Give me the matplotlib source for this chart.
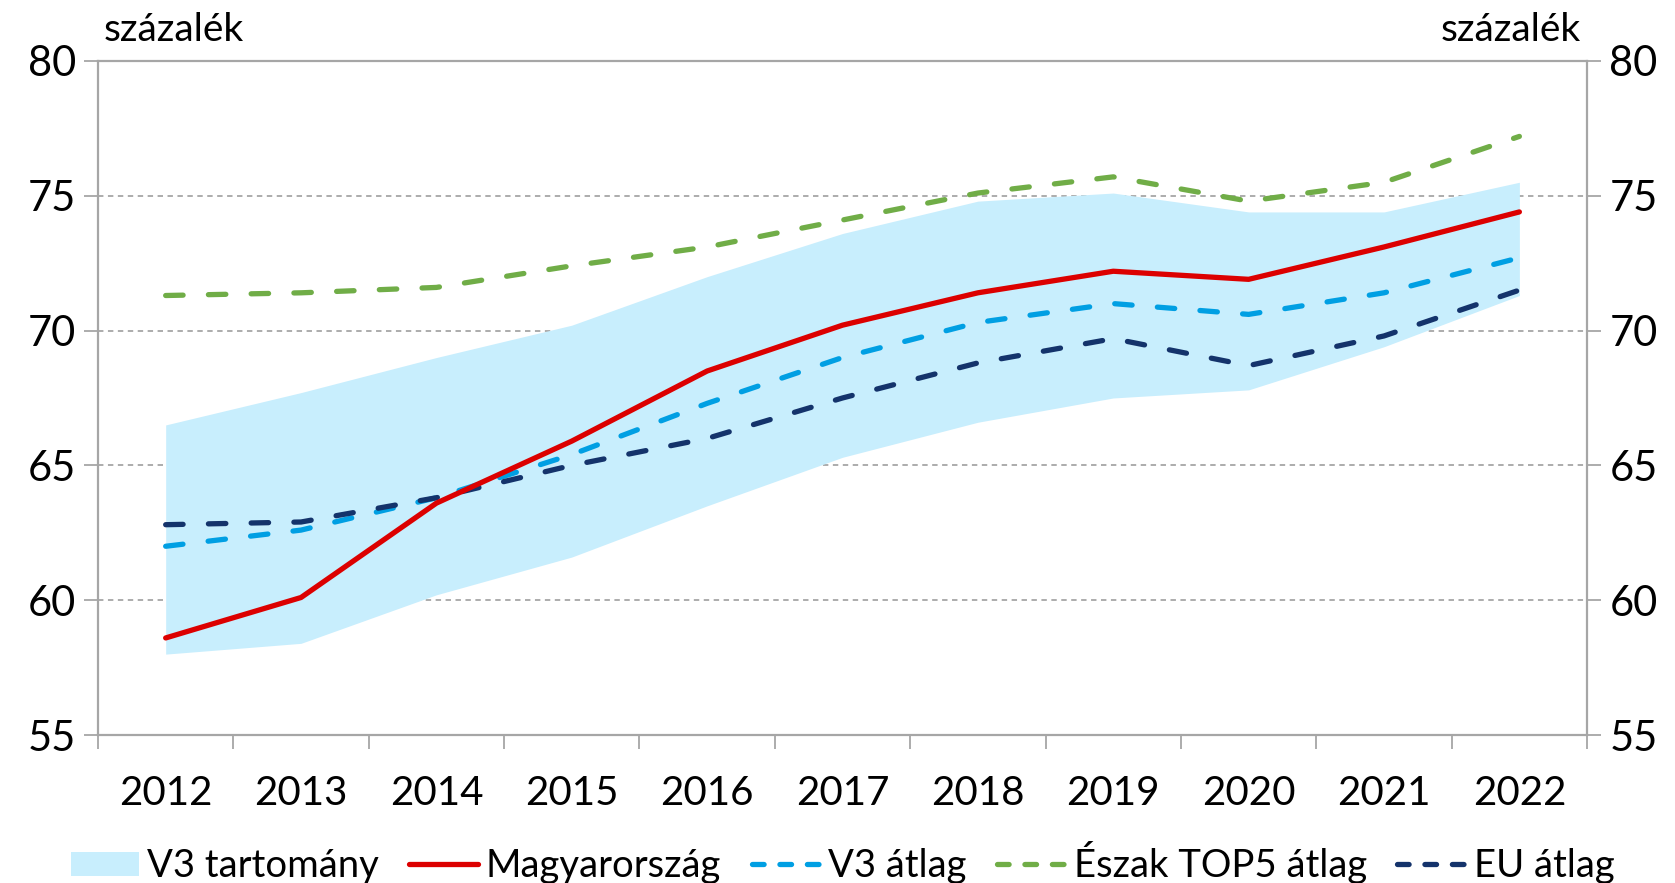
import numpy as np
import matplotlib
matplotlib.use('Agg')
import matplotlib.pyplot as plt
from matplotlib.patches import Patch
from matplotlib.lines import Line2D

# Data (percent)
years = ['2012', '2013', '2014', '2015', '2016', '2017', '2018', '2019', '2020', '2021', '2022']
band_low = [58.0, 58.4, 60.2, 61.6, 63.5, 65.3, 66.6, 67.5, 67.8, 69.4, 71.3]
band_high = [66.5, 67.7, 69.0, 70.2, 72.0, 73.6, 74.8, 75.1, 74.4, 74.4, 75.5]
hungary = [58.6, 60.1, 63.6, 65.9, 68.5, 70.2, 71.4, 72.2, 71.9, 73.1, 74.4]
v3_avg = [62.0, 62.6, 63.8, 65.4, 67.3, 69.0, 70.3, 71.0, 70.6, 71.4, 72.7]
north_top5 = [71.3, 71.4, 71.6, 72.4, 73.1, 74.1, 75.1, 75.7, 74.8, 75.5, 77.2]
eu_avg = [62.8, 62.9, 63.8, 65.0, 66.0, 67.5, 68.8, 69.7, 68.7, 69.8, 71.5]

plt.rcParams['font.family'] = ['Lato', 'DejaVu Sans']

c_band = '#C8EEFD'
c_red = '#DC0000'
c_v3 = '#009FE3'
c_green = '#70AD47'
c_eu = '#14336B'
c_grid = '#A6A6A6'

fig = plt.figure(figsize=(16.75, 8.83), dpi=100)
ax = fig.add_axes([0.0585, 0.1676, 0.889, 0.7634])

x = np.arange(len(years))
ax.fill_between(x, band_low, band_high, color=c_band, linewidth=0, zorder=1)
ax.plot(x, hungary, color=c_red, lw=3.8, solid_capstyle='round', zorder=4)
dash = (3.3, 4.8)
ax.plot(x, v3_avg, color=c_v3, lw=3.8, dashes=dash, dash_capstyle='round', zorder=3)
ax.plot(x, north_top5, color=c_green, lw=3.8, dashes=dash, dash_capstyle='round', zorder=3)
ax.plot(x, eu_avg, color=c_eu, lw=3.8, dashes=dash, dash_capstyle='round', zorder=3)

ax.set_xlim(-0.5, len(years) - 0.5)
ax.set_ylim(55, 80)
ax.set_yticks([55, 60, 65, 70, 75, 80])
for v in [60, 65, 70, 75]:
    ax.axhline(v, color=c_grid, lw=1.3, ls=(0, (3, 2.5)), zorder=0)

ax.set_xticks(x)
ax.set_xticklabels(years, fontsize=29)
ax.set_xticks(np.arange(-0.5, len(years)), minor=True)
ax.tick_params(axis='x', which='major', length=0, pad=29)
ax.tick_params(axis='x', which='minor', length=10, width=1.3, color=c_grid, direction='out')
ax.tick_params(axis='y', which='major', length=10, width=1.3, color=c_grid, direction='out',
               labelsize=30, pad=6, left=True, right=True, labelleft=True, labelright=True)

for side in ['left', 'right', 'bottom', 'top']:
    ax.spines[side].set_color(c_grid)
    ax.spines[side].set_linewidth(1.6)

fig.text(0.062, 0.966, 'százalék', fontsize=28, ha='left', va='center')
fig.text(0.944, 0.966, 'százalék', fontsize=28, ha='right', va='center')

handles = [
    Patch(facecolor=c_band, edgecolor='none'),
    Line2D([], [], color=c_red, lw=3.8, solid_capstyle='round'),
    Line2D([], [], color=c_v3, lw=3.8, dashes=(2.2, 3.0), dash_capstyle='round'),
    Line2D([], [], color=c_green, lw=3.8, dashes=(2.2, 3.0), dash_capstyle='round'),
    Line2D([], [], color=c_eu, lw=3.8, dashes=(2.2, 3.0), dash_capstyle='round'),
]
labels = ['V3 tartomány', 'Magyarország', 'V3 átlag', 'Észak TOP5 átlag', 'EU átlag']
fig.legend(handles, labels, loc='center', bbox_to_anchor=(0.503, 0.023), ncol=5, frameon=False,
           fontsize=27.5, handlelength=1.8, handleheight=0.6, handletextpad=0.2, columnspacing=0.8,
           borderpad=0)

fig.savefig('out.png', dpi=100)
